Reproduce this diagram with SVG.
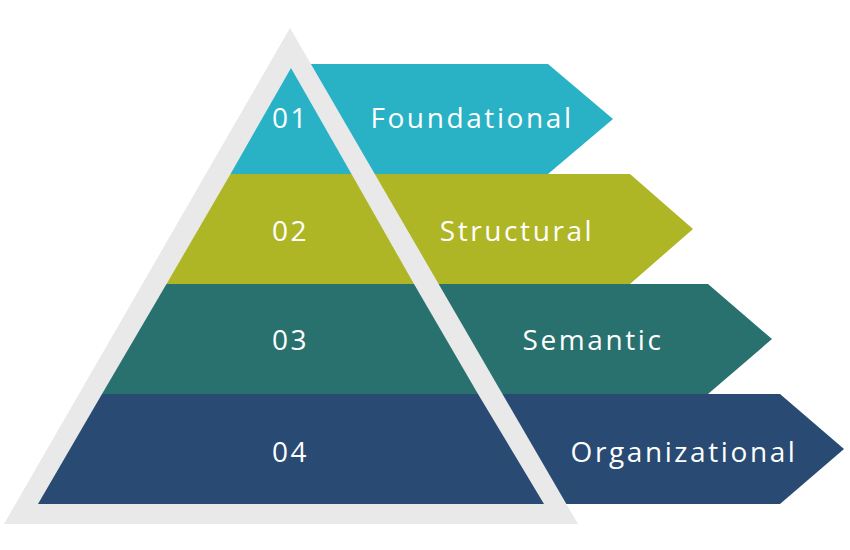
<svg xmlns="http://www.w3.org/2000/svg" width="850" height="550" viewBox="0 0 850 550">
<style>
.t{font-family:"Open Sans","Liberation Sans",sans-serif;font-size:28px;fill:#ffffff;letter-spacing:2.6px}
.n{text-anchor:start}
.l{text-anchor:middle}
</style>
<rect width="850" height="550" fill="#ffffff"/>
<g id="arrows">
<polygon id="arrow1" points="300,64 548,64 613,119 548,174 300,174" fill="#29b2c5"/>
<polygon id="arrow2" points="300,174 630,174 693,229 630,284 300,284" fill="#afb626"/>
<polygon id="arrow3" points="300,284 708,284 772,339 708,394 300,394" fill="#28716e"/>
<polygon id="arrow4" points="300,394 780,394 844,449 780,504 300,504" fill="#284a73"/>
</g>
<g id="frame">
<polygon points="290,28 4,524 578,524" fill="#e9e9e9"/>
</g>
<g id="layers">
<polygon id="layer1" points="291,68 351.5,174 230.5,174" fill="#29b2c5"/>
<polygon id="layer2" points="230.5,174 351.5,174 414,284 166.5,284" fill="#afb626"/>
<polygon id="layer3" points="166.5,284 414,284 478,394 102,394" fill="#28716e"/>
<polygon id="layer4" points="102,394 478,394 544,504 38,504" fill="#284a73"/>
</g>
<g id="labels">
<text class="t n" x="272" y="128">01</text>
<text class="t l" x="472" y="128">Foundational</text>
<text class="t n" x="272" y="241">02</text>
<text class="t l" x="517" y="241">Structural</text>
<text class="t n" x="272" y="350">03</text>
<text class="t l" x="593" y="350">Semantic</text>
<text class="t n" x="272" y="462">04</text>
<text class="t l" x="684" y="462">Organizational</text>
</g>
</svg>
